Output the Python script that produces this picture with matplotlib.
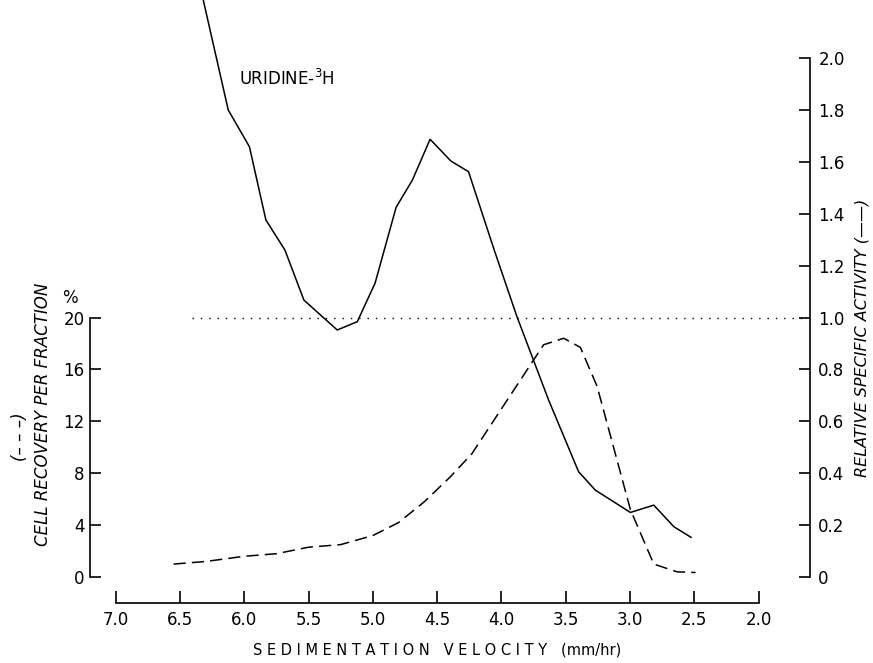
import numpy as np
import matplotlib
matplotlib.use('Agg')
import matplotlib.pyplot as plt

# solid line: relative specific activity (right axis units)
act_x = [6.40, 6.125, 5.96, 5.832, 5.684, 5.536, 5.277, 5.121, 4.983, 4.819,
         4.692, 4.555, 4.393, 4.256, 4.056, 3.879, 3.633, 3.400, 3.270, 2.997,
         2.815, 2.659, 2.525]
act_y = [2.40, 1.80, 1.658, 1.376, 1.26, 1.067, 0.952, 0.984, 1.132, 1.425,
         1.53, 1.687, 1.603, 1.562, 1.26, 1.003, 0.682, 0.406, 0.335, 0.249,
         0.277, 0.194, 0.153]

# dashed line: cell recovery per fraction (%)
rec_x = [6.55, 6.3, 6.0, 5.75, 5.5, 5.25, 5.0, 4.8, 4.6, 4.40, 4.23,
         3.672, 3.516, 3.386, 3.256, 2.997, 2.815, 2.634, 2.49]
rec_y = [1.0, 1.2, 1.6, 1.8, 2.3, 2.5, 3.2, 4.2, 5.8, 7.7, 9.5,
         17.9, 18.4, 17.7, 14.7, 5.2, 1.0, 0.4, 0.35]

left_ticks = [0, 4, 8, 12, 16, 20]
right_ticks = [0, 0.2, 0.4, 0.6, 0.8, 1.0, 1.2, 1.4, 1.6, 1.8, 2.0]
x_ticks = [7.0, 6.5, 6.0, 5.5, 5.0, 4.5, 4.0, 3.5, 3.0, 2.5, 2.0]

fig = plt.figure(figsize=(8.73, 6.63), dpi=100)
ax = fig.add_axes([90/873, 60/663, 720/873, 603/663])
ax2 = ax.twinx()

ymin, ymax = -0.1, 2.2235
for a in (ax, ax2):
    a.set_xlim(7.2, 1.6)
    a.set_ylim(ymin, ymax)
    a.spines['top'].set_visible(False)
    for s in a.spines.values():
        s.set_linewidth(1.2)

ax.spines['right'].set_visible(False)
ax2.spines['left'].set_visible(False)
ax2.spines['bottom'].set_visible(False)
ax.spines['left'].set_bounds(0, 1.0)
ax2.spines['right'].set_bounds(0, 2.0)
ax.spines['bottom'].set_bounds(7.0, 2.0)

# recovery % shares the scale: 20 % == 1.0
ax.plot(act_x, act_y, color='black', lw=1.1, solid_joinstyle='miter')
ax.plot(rec_x, np.array(rec_y) / 20.0, color='black', lw=1.1, dashes=(8, 4))
ax.plot([6.41, 1.6], [1.0, 1.0], color='black', lw=1.0, dashes=(1, 5))

ax.set_yticks(np.array(left_ticks) / 20.0)
ax.set_yticklabels([str(t) for t in left_ticks])
ax.tick_params(axis='y', direction='in', length=8, width=1.2, pad=4, labelsize=12)
ax.set_xticks(x_ticks)
ax.set_xticklabels(['%.1f' % t for t in x_ticks])
ax.tick_params(axis='x', direction='in', length=9, width=1.2, pad=6, labelsize=12)

ax2.set_yticks(right_ticks)
ax2.set_yticklabels(['0'] + ['%.1f' % t for t in right_ticks[1:]])
ax2.tick_params(axis='y', direction='in', length=8, width=1.2, pad=6, labelsize=12)

fig.text(70/873, 1 - 298/663, '%', fontsize=12, ha='center', va='center')
fig.text(43/873, 1 - 414/663, 'CELL RECOVERY PER FRACTION', fontsize=12,
         style='italic', rotation=90, ha='center', va='center')
fig.text(20/873, 1 - 437/663, '(– – –)', fontsize=12,
         style='italic', rotation=90, ha='center', va='center')
fig.text(862/873, 1 - 338/663, 'RELATIVE SPECIFIC ACTIVITY (——)', fontsize=11.5,
         style='italic', rotation=90, ha='center', va='center')
fig.text(437/873, 1 - 650/663, 'S E D I M E N T A T I O N   V E L O C I T Y   (mm/hr)',
         fontsize=10.5, ha='center', va='center')
fig.text(239/873, 1 - 79/663, 'URIDINE-$^{3}$H', fontsize=12, ha='left', va='center')

fig.savefig('out.png', dpi=100)
